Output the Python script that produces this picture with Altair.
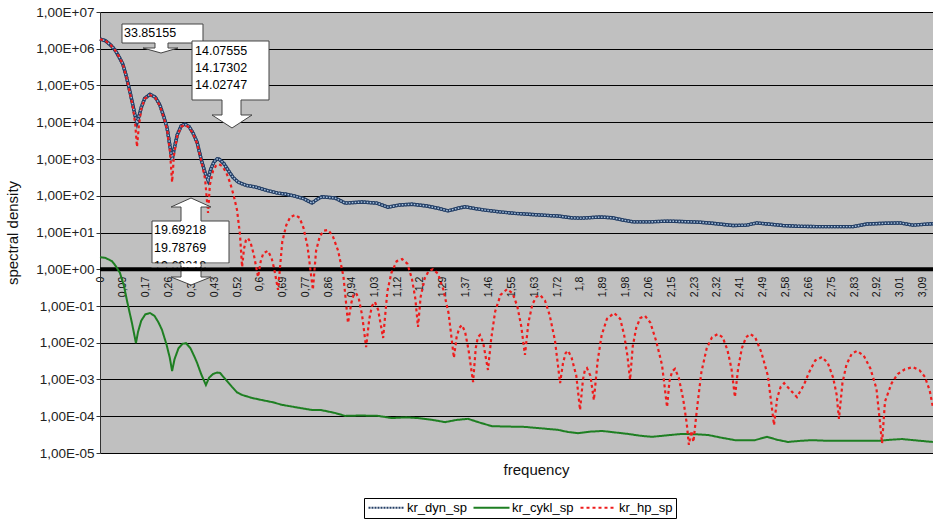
import altair as alt
import pandas as pd

# ---------------- data ----------------
series_names = ["kr_dyn_sp", "kr_cykl_sp", "kr_hp_sp"]
series_colors = ["#243F66", "#1E7F22", "#EE1C1C"]
series_dash = [[2, 1], [1, 0], [3, 3]]

# kr_dyn_sp  (frequency, log10 spectral density)
dyn_f = [0.000, 0.020, 0.040, 0.056, 0.070, 0.086, 0.100, 0.112, 0.124, 0.133, 0.139, 0.146,
         0.155, 0.168, 0.188, 0.208, 0.225, 0.240, 0.252, 0.263, 0.271, 0.278, 0.290, 0.305,
         0.319, 0.335, 0.350, 0.365, 0.380, 0.395, 0.406, 0.415, 0.428, 0.440, 0.447, 0.465,
         0.481, 0.500, 0.519, 0.550, 0.583, 0.630, 0.669, 0.700, 0.733, 0.765, 0.797, 0.815,
         0.834, 0.883, 0.921, 0.985, 1.040, 1.082, 1.127, 1.172, 1.229, 1.270, 1.308, 1.345,
         1.372, 1.410, 1.447, 1.503, 1.560, 1.623, 1.691, 1.721, 1.770, 1.807, 1.880, 1.925,
         1.965, 2.004, 2.067, 2.131, 2.180, 2.255, 2.300, 2.379, 2.430, 2.468, 2.510, 2.567,
         2.620, 2.694, 2.830, 2.882, 2.950, 3.006, 3.055, 3.093, 3.130]
dyn_log = [6.26, 6.22, 6.10, 5.97, 5.80, 5.58, 5.22, 4.85, 4.45, 4.15, 3.98, 4.15,
           4.40, 4.65, 4.76, 4.68, 4.47, 4.15, 3.85, 3.35, 2.97, 3.25, 3.65, 3.90,
           3.95, 3.88, 3.70, 3.45, 3.00, 2.62, 2.43, 2.70, 2.92, 3.00, 3.00, 2.88,
           2.70, 2.50, 2.37, 2.28, 2.24, 2.14, 2.07, 2.04, 1.99, 1.92, 1.80, 1.90,
           1.97, 1.94, 1.80, 1.83, 1.80, 1.69, 1.75, 1.77, 1.72, 1.66, 1.59, 1.66,
           1.70, 1.65, 1.61, 1.56, 1.52, 1.49, 1.46, 1.45, 1.40, 1.39, 1.42, 1.40,
           1.34, 1.29, 1.29, 1.31, 1.30, 1.28, 1.25, 1.19, 1.20, 1.26, 1.23, 1.19,
           1.17, 1.16, 1.16, 1.23, 1.25, 1.26, 1.20, 1.22, 1.24]

# kr_cykl_sp
cykl_f = [0.000, 0.020, 0.045, 0.060, 0.075, 0.090, 0.101, 0.112, 0.120, 0.128, 0.135, 0.143,
          0.155, 0.170, 0.188, 0.205, 0.220, 0.233, 0.250, 0.262, 0.271, 0.280, 0.295, 0.310,
          0.323, 0.340, 0.355, 0.365, 0.380, 0.398, 0.410, 0.425, 0.440, 0.451, 0.470, 0.496,
          0.515, 0.534, 0.570, 0.609, 0.650, 0.684, 0.740, 0.797, 0.830, 0.883, 0.921, 0.980,
          1.045, 1.097, 1.150, 1.195, 1.250, 1.297, 1.340, 1.383, 1.430, 1.473, 1.530, 1.597,
          1.660, 1.721, 1.760, 1.796, 1.840, 1.887, 1.935, 1.984, 2.030, 2.074, 2.130, 2.187,
          2.240, 2.285, 2.340, 2.386, 2.430, 2.461, 2.507, 2.545, 2.585, 2.630, 2.676, 2.740,
          2.800, 2.860, 2.924, 2.970, 3.014, 3.070, 3.130]
cykl_log = [0.33, 0.31, 0.22, 0.08, -0.10, -0.45, -0.84, -1.20, -1.46, -1.75, -2.01, -1.70,
            -1.40, -1.23, -1.19, -1.27, -1.45, -1.65, -2.05, -2.40, -2.77, -2.45, -2.15, -2.03,
            -2.01, -2.15, -2.38, -2.55, -2.85, -3.15, -2.95, -2.85, -2.81, -2.82, -2.98, -3.20,
            -3.35, -3.42, -3.50, -3.56, -3.62, -3.69, -3.76, -3.83, -3.83, -3.91, -3.99, -3.98,
            -3.99, -4.05, -4.03, -4.05, -4.10, -4.16, -4.10, -4.07, -4.18, -4.27, -4.28, -4.29,
            -4.33, -4.37, -4.43, -4.46, -4.42, -4.40, -4.44, -4.48, -4.53, -4.56, -4.52, -4.48,
            -4.49, -4.51, -4.59, -4.65, -4.65, -4.65, -4.56, -4.64, -4.70, -4.67, -4.65, -4.67,
            -4.67, -4.67, -4.67, -4.64, -4.62, -4.66, -4.70]

# kr_hp_sp
hp_f = [0.000, 0.020, 0.040, 0.056, 0.070, 0.086, 0.100, 0.112, 0.124, 0.133, 0.139, 0.146,
        0.155, 0.168, 0.188, 0.208, 0.225, 0.240, 0.252, 0.263, 0.271, 0.278, 0.290, 0.305,
        0.319, 0.335, 0.350, 0.365, 0.380, 0.395, 0.406, 0.413, 0.425, 0.436, 0.447, 0.460,
        0.475, 0.489, 0.502, 0.515, 0.526, 0.534, 0.541, 0.548, 0.556, 0.566, 0.578, 0.594,
        0.604, 0.614, 0.631, 0.645, 0.655, 0.669, 0.685, 0.700, 0.715, 0.733, 0.750, 0.765,
        0.780, 0.800, 0.812, 0.826, 0.841, 0.857, 0.875, 0.895, 0.915, 0.932, 0.945, 0.953,
        0.962, 0.972, 0.985, 1.000, 1.012, 1.022, 1.033, 1.045, 1.064, 1.080, 1.095, 1.115,
        1.135, 1.155, 1.172, 1.185, 1.195, 1.205, 1.220, 1.235, 1.251, 1.270, 1.290, 1.310,
        1.330, 1.340, 1.350, 1.360, 1.372, 1.385, 1.402, 1.412, 1.420, 1.428, 1.440, 1.458,
        1.470, 1.485, 1.505, 1.530, 1.550, 1.568, 1.583, 1.597, 1.610, 1.625, 1.640, 1.654,
        1.672, 1.690, 1.710, 1.729, 1.740, 1.750, 1.759, 1.772, 1.790, 1.804, 1.815, 1.822,
        1.830, 1.843, 1.856, 1.870, 1.885, 1.905, 1.932, 1.955, 1.970, 1.982, 1.992, 2.002,
        2.015, 2.030, 2.048, 2.068, 2.090, 2.112, 2.131, 2.140, 2.150, 2.161, 2.175, 2.192,
        2.205, 2.213, 2.222, 2.230, 2.245, 2.260, 2.280, 2.300, 2.322, 2.340, 2.358, 2.373,
        2.386, 2.398, 2.412, 2.428, 2.443, 2.462, 2.485, 2.510, 2.533, 2.545, 2.558, 2.571,
        2.590, 2.619, 2.645, 2.665, 2.688, 2.713, 2.735, 2.755, 2.768, 2.777, 2.790, 2.805,
        2.825, 2.845, 2.870, 2.895, 2.918, 2.939, 2.950, 2.975, 2.998, 3.025, 3.055, 3.080,
        3.100, 3.118, 3.130]
hp_log = [6.26, 6.22, 6.10, 5.97, 5.80, 5.58, 5.20, 4.80, 4.40, 3.90, 3.33, 3.90,
          4.35, 4.64, 4.74, 4.66, 4.45, 4.12, 3.80, 3.20, 2.37, 3.10, 3.62, 3.88,
          3.93, 3.86, 3.68, 3.42, 2.97, 2.45, 1.53, 2.30, 2.68, 2.82, 2.86, 2.80,
          2.62, 2.35, 2.02, 1.61, 0.95, 0.06, 0.55, 0.78, 0.85, 0.72, 0.40, -0.21,
          0.22, 0.44, 0.50, 0.30, 0.00, -0.56, 0.75, 1.20, 1.42, 1.48, 1.40, 1.12,
          0.62, -0.56, 0.50, 0.90, 1.05, 1.07, 0.90, 0.50, -0.20, -1.46, -0.90, -0.70,
          -0.65, -0.78, -1.25, -2.12, -1.35, -1.00, -0.89, -1.10, -1.87, -0.60, -0.10, 0.22,
          0.28, 0.15, -0.25, -0.80, -1.57, -0.75, -0.25, -0.05, 0.00, -0.12, -0.55, -1.20,
          -2.41, -1.85, -1.60, -1.52, -1.70, -2.20, -3.07, -2.15, -1.85, -1.79, -2.00, -2.74,
          -1.90, -1.15, -0.70, -0.54, -0.65, -1.00, -1.55, -2.33, -1.45, -0.95, -0.75, -0.70,
          -0.85, -1.25, -1.95, -3.10, -2.55, -2.28, -2.22, -2.40, -2.90, -3.83, -3.00, -2.75,
          -2.69, -2.90, -3.56, -2.50, -1.80, -1.35, -1.19, -1.35, -1.80, -2.35, -3.01, -2.10,
          -1.60, -1.33, -1.27, -1.45, -1.95, -2.60, -3.75, -3.05, -2.78, -2.71, -2.95, -3.55,
          -4.20, -4.78, -4.40, -4.70, -3.70, -2.80, -2.15, -1.85, -1.76, -1.85, -2.20, -2.70,
          -3.48, -2.70, -2.15, -1.85, -1.76, -1.85, -2.25, -2.90, -4.24, -3.50, -3.20, -3.10,
          -3.25, -3.48, -3.15, -2.80, -2.48, -2.39, -2.55, -2.95, -3.40, -4.07, -3.10, -2.60,
          -2.30, -2.22, -2.35, -2.70, -3.25, -4.73, -3.60, -3.10, -2.85, -2.72, -2.66, -2.75,
          -2.93, -3.30, -3.75]

x_tick_labels = ["0", "0,09", "0,17", "0,26", "0,34", "0,43", "0,52", "0,6", "0,69", "0,77",
                 "0,86", "0,94", "1,03", "1,12", "1,2", "1,29", "1,37", "1,46", "1,55", "1,63",
                 "1,72", "1,8", "1,89", "1,98", "2,06", "2,15", "2,23", "2,32", "2,41", "2,49",
                 "2,58", "2,66", "2,75", "2,83", "2,92", "3,01", "3,09"]
x_tick_step = 0.08587
y_tick_labels = ["1,00E-05", "1,00E-04", "1,00E-03", "1,00E-02", "1,00E-01", "1,00E+00",
                 "1,00E+01", "1,00E+02", "1,00E+03", "1,00E+04", "1,00E+05", "1,00E+06",
                 "1,00E+07"]

# callouts: anchor (frequency, density) and their texts
callout_f = [0.2292, 0.4961, 0.3420]
callout_v = [7.66e5, 6975.0, 5.513]
callout_lines = [["33.85155"],
                 ["14.07555", "14.17302", "14.02747"],
                 ["19.69218", "19.78769", "19.69218"]]

# ---------------- chart ----------------
W, H = 833, 441
FONT = "Liberation Sans"
GRAY = "#C0C0C0"


def frame(name, fs, logs):
    return pd.DataFrame({"f": fs, "value": [10.0 ** e for e in logs], "series": name})


dyn = frame(series_names[0], dyn_f, dyn_log)
cykl = frame(series_names[1], cykl_f, cykl_log)
hp = frame(series_names[2], hp_f, hp_log)

x_vals = [round(i * x_tick_step, 5) for i in range(len(x_tick_labels))]
x_label_js = "[" + ",".join("'%s'" % s for s in x_tick_labels) + "]"
y_label_js = "[" + ",".join("'%s'" % s for s in y_tick_labels) + "]"

x_axis = alt.Axis(
    values=x_vals,
    labelExpr=x_label_js + "[round(datum.value/%s)]" % x_tick_step,
    offset=-183.75, domain=False, ticks=False, tickSize=0, grid=False,
    labelAngle=270, labelAlign="right", labelBaseline="middle", labelPadding=7,
    labelFont=FONT, labelFontSize=10.5, labelColor="#111", labelOverlap=False,
    labelFlush=False,
    title="frequency", titleFont=FONT, titleFontSize=15, titleFontWeight="normal",
    titleColor="#111", titleX=436, titleY=200, titleAlign="center",
    titleBaseline="middle", titleAngle=0,
)
y_axis = alt.Axis(
    values=[10.0 ** k for k in range(-5, 8)],
    labelExpr=y_label_js + "[round(log(datum.value)/LN10)+5]",
    grid=True, gridColor="#000", gridWidth=1, gridOpacity=1,
    domainColor="#333", domainWidth=1, tickColor="#333", tickSize=4,
    labelFont=FONT, labelFontSize=13.5, labelColor="#222", labelPadding=2,
    labelOverlap=False,
    title="spectral density", titleFont=FONT, titleFontSize=15,
    titleFontWeight="normal", titleColor="#111", titleX=-88, titleY=H / 2,
    titleAngle=270, titleAlign="center", titleBaseline="middle",
)

X = alt.X("f:Q", scale=alt.Scale(domain=[0, 3.1304], nice=False, zero=False), axis=x_axis)
Y = alt.Y("value:Q", scale=alt.Scale(type="log", domain=[1e-5, 1e7], nice=False), axis=y_axis)

# legend symbol: a horizontal stroke ~36 px long drawn to the right of a small symbol box
legend = alt.Legend(
    orient="none", legendX=264, legendY=486, direction="horizontal", title=None,
    symbolType="M -1,0 L 6.2,0", symbolSize=100, symbolStrokeWidth=2,
    labelFont=FONT, labelFontSize=13, labelColor="#000", labelOffset=27,
    columnPadding=2, padding=3, strokeColor="#000", fillColor="white",
    rowPadding=0,
)
COLOR = alt.Color("series:N", scale=alt.Scale(domain=series_names, range=series_colors),
                  legend=legend)
DASH = alt.StrokeDash("series:N", scale=alt.Scale(domain=series_names, range=series_dash),
                      legend=legend)

rule = alt.Chart(pd.DataFrame({"value": [1.0]})).mark_rule(
    color="black", strokeWidth=4).encode(y=Y)

dyn_under = alt.Chart(dyn).mark_line(color=series_colors[0], strokeWidth=3.4).encode(x=X, y=Y)
dyn_main = alt.Chart(dyn).mark_line(strokeWidth=3.4).encode(x=X, y=Y, color=COLOR, strokeDash=DASH)
dyn_dots = alt.Chart(dyn).mark_line(color="#A9C3DF", strokeWidth=1.4,
                                    strokeDash=[1.5, 1.5]).encode(x=X, y=Y)
cykl_line = alt.Chart(cykl).mark_line(strokeWidth=2).encode(x=X, y=Y, color=COLOR, strokeDash=DASH)
hp_line = alt.Chart(hp).mark_line(strokeWidth=2.2).encode(x=X, y=Y, color=COLOR, strokeDash=DASH)


def shape(i, path, fill, stroke="#444", sw=1.0):
    d = pd.DataFrame({"f": [callout_f[i]], "value": [callout_v[i]]})
    return alt.Chart(d).mark_point(shape=path, size=4, filled=True, fill=fill, stroke=stroke,
                                   strokeWidth=sw, opacity=1).encode(x=X, y=Y)


def texts(i, dx, dy0, lh):
    d = pd.DataFrame({"f": [callout_f[i]], "value": [callout_v[i]]})
    out = []
    for k, line in enumerate(callout_lines[i]):
        out.append(alt.Chart(d).mark_text(
            align="left", baseline="middle", dx=dx, dy=dy0 + k * lh, font=FONT,
            fontSize=12.5, color="#000", text=line).encode(x=X, y=Y))
    return out


p1 = "M-39,-29 L42,-29 L42,-10 L7,-10 L7,-5 L17,-5 L0,0 L-18,-5 L-6,-5 L-6,-10 L-39,-10 Z"
p2 = "M-40,-87 L37,-87 L37,-28 L9,-28 L9,-13 L20,-13 L0,0 L-20,-13 L-10,-13 L-10,-28 L-40,-28 Z"
p3 = ("M-39,-21 L-10,-21 L-10,-35 L-20,-35 L0,-44 L20,-35 L10,-35 L10,-21 L38,-21 L38,21 "
      "L10,21 L10,35 L20,35 L0,43 L-20,35 L-10,35 L-10,21 L-39,21 Z")
cover_gray = ("M-39.5,21.5 L-10.5,21.5 L-10.5,25.25 L-39.5,25.25 Z "
              "M10.5,21.5 L38.5,21.5 L38.5,25.25 L10.5,25.25 Z")
cover_white = "M-9.5,21.5 L9.5,21.5 L9.5,25.25 L-9.5,25.25 Z"
black_bar = "M-10.5,25.25 L10.5,25.25 L10.5,29.25 L-10.5,29.25 Z"

layers = [rule, dyn_under, dyn_main, dyn_dots, cykl_line, hp_line,
          shape(0, p1, "white")] + texts(0, -37, -20, 17) + \
         [shape(1, p2, "white")] + texts(1, -37, -77, 17) + \
         [shape(2, p3, "white")] + texts(2, -37, -12, 18) + \
         [shape(2, cover_gray, GRAY, stroke=GRAY, sw=0),
          shape(2, cover_white, "white", stroke="white", sw=0),
          shape(2, black_bar, "black", stroke="black", sw=0)]

chart = alt.layer(*layers).properties(
    width=W, height=H,
    padding={"left": 100, "top": 12, "right": 0, "bottom": 68},
    autosize=alt.AutoSizeParams(type="none"),
    background="white",
).configure_view(fill=GRAY, strokeWidth=0)

chart.save("out.html", embed_options={"renderer": "svg", "actions": False})
